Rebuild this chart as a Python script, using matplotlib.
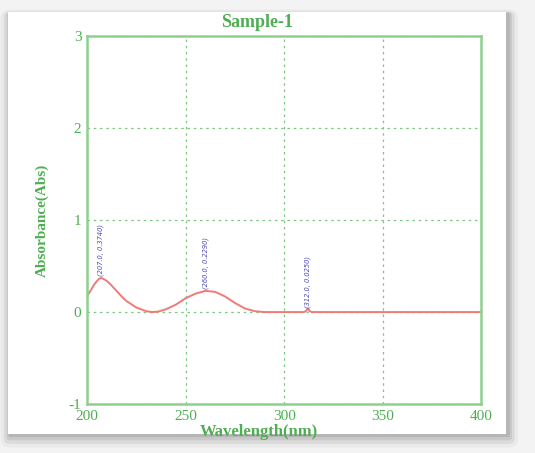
import matplotlib
matplotlib.use("Agg")
import matplotlib.pyplot as plt
from matplotlib.patches import FancyBboxPatch

# spectrum
wavelength = [200, 202, 204, 206, 207, 208, 210, 212, 215, 218, 220, 225, 230, 233,
              236, 240, 245, 250, 255, 260, 265, 270, 275, 280, 285, 290, 300, 310, 311,
              312, 313, 314, 320, 350, 400]
absorbance = [0.17, 0.24, 0.31, 0.36, 0.37, 0.365, 0.34, 0.30, 0.23, 0.16, 0.12, 0.05,
              0.01, 0.0, 0.005, 0.03, 0.08, 0.15, 0.20, 0.23, 0.22, 0.17, 0.10, 0.04,
              0.01, 0.0, 0.0, 0.0, 0.01, 0.04, 0.01, 0.0, 0.0, 0.0, 0.0]
peak_x = [207, 260, 312]
peak_y = [0.374, 0.229, 0.025]
peak_labels = ["(207.0, 0.3740)", "(260.0, 0.2290)", "(312.0, 0.0250)"]

green = "#4fae52"
plt.rcParams['font.family'] = ['Liberation Serif', 'DejaVu Serif']
plt.rcParams['axes.unicode_minus'] = False

fig = plt.figure(figsize=(5.35, 4.53), dpi=100)
fig.patch.set_facecolor("#f3f3f3")

# soft shadow + white card behind the axes
card = (0.015, 0.042, 0.931, 0.931)
for pad, dy, a in [(0.018, -0.012, 0.06), (0.012, -0.010, 0.10), (0.007, -0.007, 0.14),
                   (0.003, -0.004, 0.18)]:
    fig.patches.append(FancyBboxPatch((card[0] + 0.004, card[1] + dy), card[2], card[3],
                                      boxstyle="round,pad=%f" % pad, transform=fig.transFigure,
                                      facecolor="#606060", edgecolor="none", alpha=a,
                                      zorder=-3))
fig.patches.append(FancyBboxPatch(card[:2], card[2], card[3], boxstyle="square,pad=0",
                                  transform=fig.transFigure, facecolor="white",
                                  edgecolor="none", zorder=-2))

ax = fig.add_axes([0.1626, 0.108, 0.737, 0.8124])
ax.set_zorder(1)
ax.set_facecolor("white")
ax.plot(wavelength, absorbance, color="#f07a78", lw=1.4)

for x, y, s in zip(peak_x, peak_y, peak_labels):
    ax.text(x, y + 0.02, s, rotation=90, fontsize=4.8, color="#4848b8",
            ha="center", va="bottom", family="Liberation Sans Narrow", style="italic")

ax.set_xlim(200, 400)
ax.set_ylim(-1, 3)
ax.set_xticks([200, 250, 300, 350, 400])
ax.set_yticks([-1, 0, 1, 2, 3])
ax.grid(True, color="#7cc87c", linestyle=(0, (2, 3)), lw=0.9)
for sp in ax.spines.values():
    sp.set_color("#8fd08f")
    sp.set_linewidth(1.8)
ax.tick_params(length=0, labelcolor=green, labelsize=11, pad=4)

fig.text(0.48, 0.951, "Sample-1", color=green, fontsize=13, fontweight="bold",
         ha="center", va="center")
fig.text(0.484, 0.047, "Wavelength(nm)", color=green, fontsize=12, fontweight="bold",
         ha="center", va="center")
ax.set_ylabel("Absorbance(Abs)", color=green, fontsize=11, fontweight="bold", labelpad=14)

fig.savefig("out.png", dpi=100, facecolor=fig.get_facecolor())
